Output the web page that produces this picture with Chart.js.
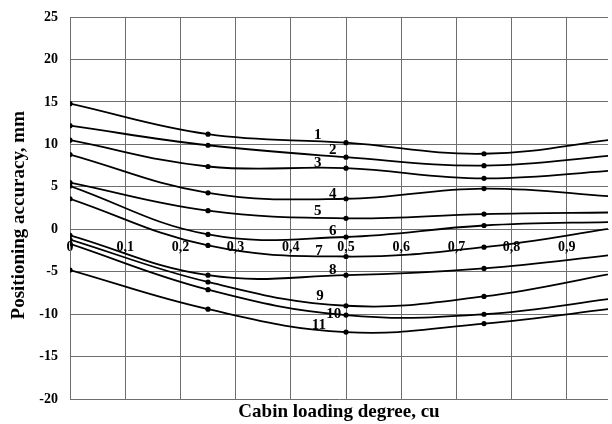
<!DOCTYPE html>
<html>
<head>
<meta charset="utf-8">
<script src="https://cdn.jsdelivr.net/npm/chart.js@4.4.0/dist/chart.umd.min.js"></script>
<style>
  html, body { margin: 0; padding: 0; background: #fff; overflow: hidden; }
</style>
</head>
<body>
<canvas id="myChart" width="612" height="424"></canvas>
<script>
// DATA

let loading = [0, 0.25, 0.5, 0.75, 1];
let curve1 = [14.8, 11.2, 10.2, 8.9, 10.7];
let curve2 = [12.2, 9.9, 8.5, 7.5, 8.8];
let curve3 = [10.5, 7.4, 7.2, 6.0, 7.0];
let curve4 = [8.8, 4.3, 3.6, 4.8, 3.8];
let curve5 = [5.5, 2.2, 1.3, 1.8, 2.0];
let curve6 = [5.1, -0.6, -0.9, 0.45, 0.9];
let curve7 = [3.6, -1.9, -3.2, -2.1, 0.3];
let curve8 = [-0.7, -5.4, -5.4, -4.6, -2.9];
let curve9 = [-1.2, -6.2, -9.0, -7.9, -5.0];
let curve10 = [-1.7, -7.1, -10.1, -10.0, -8.0];
let curve11 = [-4.8, -9.4, -12.1, -11.1, -9.2];

let curveNames = ["1", "2", "3", "4", "5", "6", "7", "8", "9", "10", "11"];
// where each curve number sits, in data units
let nameX = [0.449, 0.476, 0.449, 0.476, 0.449, 0.476, 0.451, 0.476, 0.453, 0.478, 0.451];
let nameY = [11.1, 9.3, 7.8, 4.2, 2.2, -0.2, -2.6, -4.8, -7.9, -10.0, -11.3];

let xTickLabels = ["0", "0,1", "0,2", "0,3", "0,4", "0,5", "0,6", "0,7", "0,8", "0,9"];

// BUILD DATASETS

let curves = [curve1, curve2, curve3, curve4, curve5, curve6, curve7, curve8, curve9, curve10, curve11];
let datasets = curves.map((c, i) => ({
  label: curveNames[i],
  data: c.map((v, j) => ({ x: loading[j], y: v })),
  borderColor: "#000",
  backgroundColor: "#000",
  borderWidth: 1.8,
  pointRadius: 2.6,
  pointBorderWidth: 0,
  tension: 0.4,
  fill: false,
}));

// CURVE NUMBERS

let curveNumbers = {
  id: "curveNumbers",
  afterDatasetsDraw(chart) {
    let ctx = chart.ctx;
    let xs = chart.scales.x;
    let ys = chart.scales.y;
    ctx.save();
    ctx.fillStyle = "#000";
    ctx.font = "bold 15px 'Liberation Serif', serif";
    ctx.textAlign = "center";
    ctx.textBaseline = "middle";
    curveNames.forEach((n, i) => {
      ctx.fillText(n, xs.getPixelForValue(nameX[i]), ys.getPixelForValue(nameY[i]));
    });
    ctx.restore();
  },
};

// DRAWING GRAPH

let gridColor = "#6e6e6e";
let tickFont = { family: "'Liberation Serif', serif", size: 14, weight: "bold" };
let titleFont = { family: "'Liberation Serif', serif", size: 19, weight: "bold" };
let pxPerUnit = 552; // the plot is cut at the right edge, like the original

const ctx = document.getElementById("myChart").getContext("2d");
let myChart = new Chart(ctx, {
  type: "line",
  data: { datasets: datasets },
  plugins: [curveNumbers],
  options: {
    responsive: false,
    animation: false,
    layout: { padding: { top: 17, right: 0, bottom: 0, left: 0 } },
    plugins: { legend: { display: false }, tooltip: { enabled: false } },
    scales: {
      x: {
        type: "linear",
        position: { y: 0 },
        min: 0,
        max: 0.982,
        afterDataLimits: (s) => {
          if (s.width > 100) s.max = s.width / pxPerUnit;
        },
        grid: { color: gridColor, drawTicks: false },
        border: { color: gridColor },
        ticks: {
          stepSize: 0.1,
          includeBounds: false,
          padding: 10,
          color: "#000",
          font: tickFont,
          callback: (v, i) => xTickLabels[i],
        },
      },
      xTitle: {
        type: "linear",
        position: "bottom",
        min: 0,
        max: 1,
        grid: { display: false, drawTicks: false },
        border: { display: false },
        ticks: { display: false },
        title: {
          display: true,
          text: "Cabin loading degree, cu",
          color: "#000",
          font: titleFont,
          padding: { top: 1, bottom: 1 },
        },
      },
      y: {
        min: -20,
        max: 25,
        grid: { color: gridColor, tickLength: 12, tickColor: "rgba(0,0,0,0)" },
        border: { color: gridColor },
        ticks: { stepSize: 5, padding: 0, color: "#000", font: tickFont },
        title: {
          display: true,
          text: "Positioning accuracy, mm   ",
          color: "#000",
          font: titleFont,
          padding: { top: 8, bottom: 0 },
        },
        afterFit: (s) => {
          s.width = 70;
        },
      },
    },
  },
});
</script>
</body>
</html>
